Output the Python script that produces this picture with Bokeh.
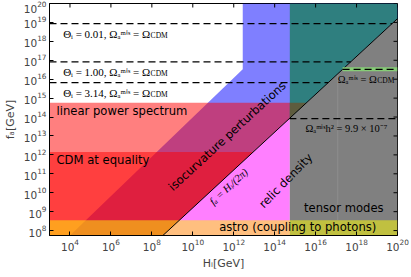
import numpy as np
from bokeh.plotting import figure
from bokeh.models import FixedTicker, Label
from bokeh.embed import file_html
from bokeh.resources import INLINE

# ---------------- data (log10 of GeV) ----------------
x_lim = [3.0, 20.0]            # log10 H_I range
y_lim = [7.74, 20.0]           # log10 f_a range
x_tick_exp = [4, 6, 8, 10, 12, 14, 16, 18, 20]
y_tick_exp = [8, 9, 10, 11, 12, 13, 14, 15, 16, 17, 18, 19, 20]

f_linear_top = 14.76           # linear power spectrum bound
f_cdm_top = 12.15              # CDM at equality bound
f_astro_top = 8.54             # astro (coupling to photons)
H_tensor = 14.74               # tensor modes bound
iso_H = [12.44, 4.00]          # isocurvature boundary (log H_I) ...
iso_f = [16.52, 7.74]          # ... at these log f_a (knee, bottom)
theta_levels = [18.94, 16.92, 15.82]
theta_values = ["0.01", "1.00", "3.14"]
omega_cdm_level = 16.52        # Omega_a^mis = Omega_CDM (H_I > 2 pi f_a)
omega_min_level = 13.92        # Omega_a^mis h^2 = 9.9e-7
faint_H = 17.08                # faint boundary inside tensor region

L2P = np.log10(2 * np.pi)


def diagH(logf):
    return logf + L2P


def diagF(logH):
    return logH - L2P


x0, x1 = x_lim
y0, y1 = y_lim

SANS = "DejaVu Sans"
SERIF = "Liberation Serif"
TXT = "11.6px"

p = figure(frame_width=348, frame_height=232, x_axis_type="log", y_axis_type="log",
           x_range=(10 ** x0, 10 ** x1), y_range=(10 ** y0, 10 ** y1),
           output_backend="svg", toolbar_location=None,
           min_border_left=42, min_border_right=13, min_border_top=3, min_border_bottom=34)
p.grid.visible = False
p.outline_line_color = "black"
p.outline_line_width = 1
p.background_fill_color = "white"


def patch(xs, ys, color, alpha):
    p.patch([10 ** v for v in xs], [10 ** v for v in ys], fill_color=color,
            fill_alpha=alpha, line_color=None)


# isocurvature (blue)
patch([iso_H[0], x1, x1, diagH(y0), iso_H[1], iso_H[0]],
      [y1, y1, diagF(x1), y0, iso_f[1], iso_f[0]], "#0000FF", 0.5)
# linear power spectrum
patch([x0, diagH(y0), diagH(f_linear_top), x0], [y0, y0, f_linear_top, f_linear_top], "#FF0000", 0.5)
# CDM at equality
patch([x0, diagH(y0), diagH(f_cdm_top), x0], [y0, y0, f_cdm_top, f_cdm_top], "#FF0000", 0.5)
# relic density
patch([diagH(y0), H_tensor, H_tensor], [y0, y0, diagF(H_tensor)], "#FF00FF", 0.5)
# tensor modes
patch([H_tensor, x1, x1, H_tensor], [y0, y0, diagF(x1), diagF(H_tensor)], "#808080", 1.0)
patch([H_tensor, x1, x1, H_tensor], [diagF(H_tensor), diagF(x1), y1, y1], "#2F7F7F", 1.0)
patch([H_tensor, diagH(f_linear_top), H_tensor], [diagF(H_tensor), f_linear_top, f_linear_top], "#5E5C3E", 1.0)
p.line([10 ** faint_H] * 2, [10 ** diagF(faint_H), 10 ** f_astro_top], line_color="#8E8E8E",
       line_width=1)
# astro band
patch([x0, x1, x1, x0], [y0, y0, f_astro_top, f_astro_top], "#FFFF00", 0.5)

# lines
p.line([10 ** diagH(y0), 10 ** x1], [10 ** y0, 10 ** diagF(x1)], line_color="black", line_width=1)
for lev in theta_levels:
    p.line([10 ** x0, 10 ** diagH(lev)], [10 ** lev, 10 ** lev], line_color="black",
           line_width=1.2, line_dash="7 4")
p.line([10 ** diagH(omega_cdm_level), 10 ** x1], [10 ** omega_cdm_level] * 2,
       line_color="#86CC76", line_width=4)
p.line([10 ** diagH(omega_cdm_level), 10 ** x1], [10 ** omega_cdm_level] * 2,
       line_color="black", line_width=1.2, line_dash="7 4")
p.line([10 ** diagH(omega_min_level), 10 ** x1], [10 ** omega_min_level] * 2,
       line_color="black", line_width=1.2, line_dash="7 4")

# axes
for ax in (p.xaxis[0], p.yaxis[0]):
    ax.major_label_text_font = SANS
    ax.major_label_text_font_size = "10.5px"
    ax.major_label_standoff = 3
    ax.major_tick_in = 4
    ax.major_tick_out = 0
    ax.minor_tick_line_color = None
    ax.axis_line_color = "black"
    ax.axis_label_text_font = SANS
    ax.axis_label_text_font_size = "11px"
    ax.axis_label_text_font_style = "normal"
p.xaxis[0].ticker = FixedTicker(ticks=[10.0 ** e for e in x_tick_exp])
p.yaxis[0].ticker = FixedTicker(ticks=[10.0 ** e for e in y_tick_exp])
p.xaxis[0].axis_label = "Hᵢ[GeV]"
p.yaxis[0].axis_label = "fₐ[GeV]"
p.xaxis[0].axis_label_standoff = 3
p.yaxis[0].axis_label_standoff = 4

# inward ticks on the top and right frame edges
p.ray(x=[10.0 ** e for e in x_tick_exp], y=[10 ** y1] * len(x_tick_exp), length=4,
      length_units="screen", angle=-np.pi / 2, line_color="black", line_width=1)
p.ray(x=[10 ** x1] * len(y_tick_exp), y=[10.0 ** e for e in y_tick_exp], length=4,
      length_units="screen", angle=np.pi, line_color="black", line_width=1)


def lab(x, y, text, font=SANS, size=TXT, align="left", base="middle", angle=0.0,
        style="normal"):
    p.add_layout(Label(x=10 ** x, y=10 ** y, text=text, text_font=font, text_font_size=size,
                       text_align=align, text_baseline=base, angle=angle,
                       text_font_style=style, text_color="black"))


# theta labels
for lev, v in zip(theta_levels, theta_values):
    lab(7.915, lev - 0.53, f"Θᵢ = {v}, Ωₐᵐⁱˢ = Ω", font=SERIF, size="11px", align="right")
    lab(7.94, lev - 0.61, "CDM", font=SERIF, size="7.5px")

lab(3.342, 14.34, "linear power spectrum")
lab(3.342, 11.72, "CDM at equality")
lab(11.68, 12.99, "isocurvature perturbations", align="center", angle=0.745)
lab(14.54, 10.635, "relic density", align="center", angle=0.80)
lab(11.753, 10.317, "fₐ = Hᵢ/(2π)", font=SERIF, size="10.5px", align="center", angle=0.745,
    style="italic")
lab(18.99, 16.005, "Ωₐᵐⁱˢ = Ω", font=SERIF, size="10.5px", align="right")
lab(19.015, 15.925, "CDM", font=SERIF, size="7.5px")
lab(17.508, 13.413, "Ωₐᵐⁱˢh² = 9.9 × 10⁻⁷", font=SERIF, size="10.5px", align="center")
lab(17.376, 9.206, "tensor modes", align="center")
lab(15.127, 8.175, "astro (coupling to photons)", align="center")

open("out.html", "w").write(file_html(p, INLINE))
